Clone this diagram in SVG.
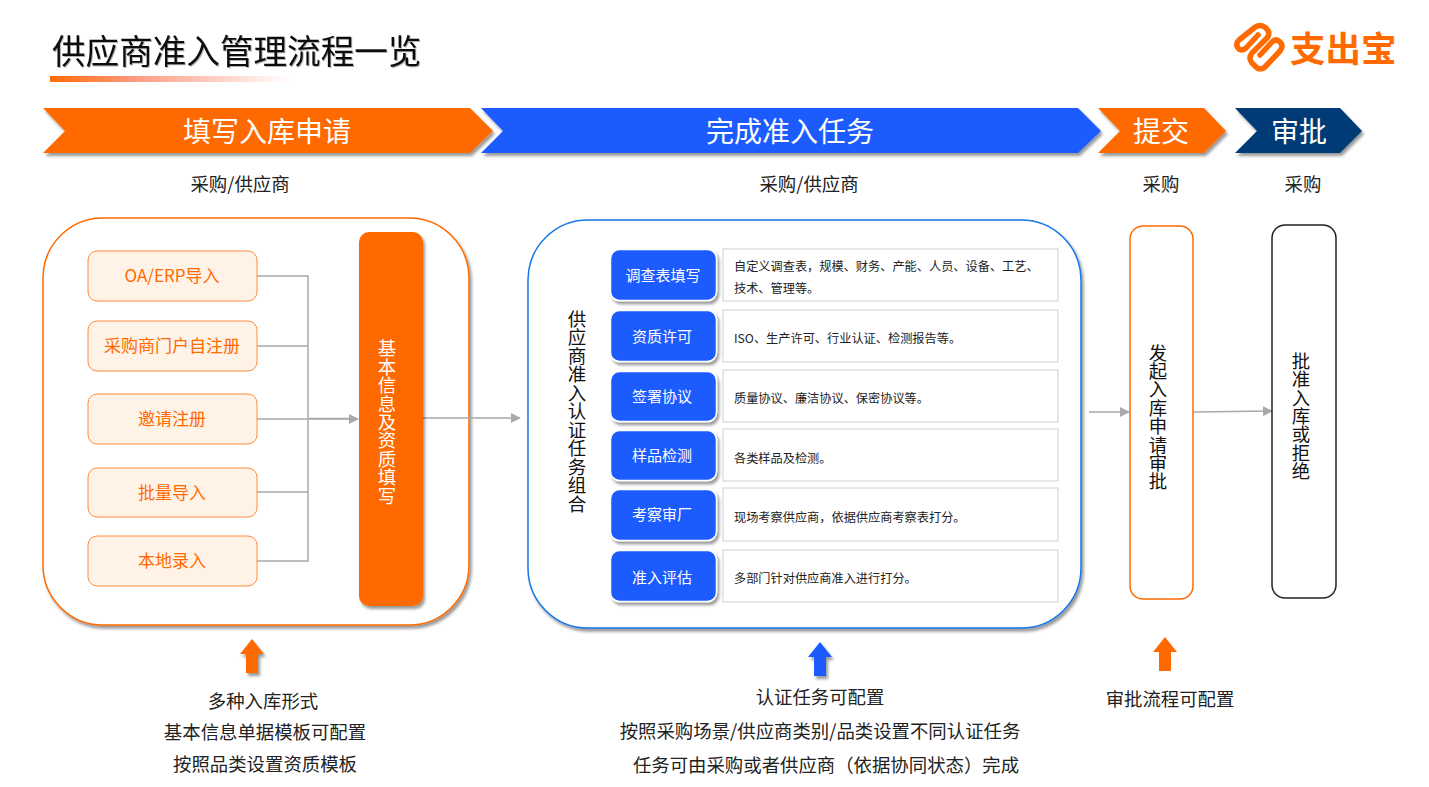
<svg xmlns="http://www.w3.org/2000/svg" width="1429" height="787" viewBox="0 0 1429 787">
<style>
text{font-family:"Noto Sans CJK SC","Liberation Sans",sans-serif}
.ctr{text-anchor:middle}
.ban{fill:#fff;font-size:28px}
.sub{font-size:18.4px;fill:#222}
.src{fill:#fff3e8;stroke:#ff8a3c;stroke-width:1}
.srct{font-size:17px;fill:#ff6a00;text-anchor:middle}
.tab{fill:#1a5cff;stroke:#fff;stroke-width:1.5;filter:url(#sh)}
.tabt{font-size:15px;fill:#fff;text-anchor:middle}
.desc{fill:#fff;stroke:#cfcfcf;stroke-width:1}
.dt{font-size:12.2px;fill:#222}
.note{font-size:18.4px;fill:#222;text-anchor:middle}
.ln{fill:none;stroke:#a9a9a9;stroke-width:1.5}
.v{writing-mode:vertical-rl;text-anchor:middle}
</style>
<defs>
<filter id="sh" x="-20%" y="-20%" width="140%" height="140%"><feDropShadow dx="2" dy="3" stdDeviation="1.5" flood-color="#000" flood-opacity=".4"/></filter>
<filter id="ts" x="-5%" y="-10%" width="110%" height="125%"><feDropShadow dx="1" dy="1" stdDeviation=".6" flood-color="#000" flood-opacity=".3"/></filter>
<linearGradient id="ug"><stop offset="0" stop-color="#ff6a00"/><stop offset=".35" stop-color="#ff9a80"/><stop offset="1" stop-color="#fff"/></linearGradient>
<marker id="ar" markerUnits="userSpaceOnUse" markerWidth="10" markerHeight="10" refX="9" refY="5" orient="auto"><path d="M0 0L10 5L0 10Z" fill="#a9a9a9"/></marker>
</defs>
<g id="title">
<text x="52" y="64" font-size="33.6" fill="#111" filter="url(#ts)">供应商准入管理流程一览</text>
<rect x="50" y="76" width="240" height="6" fill="url(#ug)"/>
</g>
<g id="logo">
<path d="M1258 35L1246 48Q1241 52 1238 48Q1235 44 1239 40L1254 28Q1260 23 1266 28Q1271 33 1267 38L1252 53Q1248 58 1252 63L1256 67Q1260 71 1265 67L1280 51Q1284 46 1280 42Q1276 38 1272 42L1260 55" fill="none" stroke="#ff6a00" stroke-width="5.5" stroke-linecap="round" stroke-linejoin="round"/>
<text x="1290" y="62" font-size="35.5" font-weight="700" fill="#ff6a00">支出宝</text>
</g>
<g id="banner1"><path d="M43 108H470L493 131L470 153H43L65 131Z" fill="#ff6a00" filter="url(#sh)"/><text class="ban ctr" x="267" y="142">填写入库申请</text><text class="sub ctr" x="240" y="191">采购/供应商</text></g>
<g id="banner2"><path d="M481 108H1078L1101 131L1078 153H481L503 131Z" fill="#1a5cff" filter="url(#sh)"/><text class="ban ctr" x="790" y="142">完成准入任务</text><text class="sub ctr" x="809" y="191">采购/供应商</text></g>
<g id="banner3"><path d="M1098 108H1204L1226 131L1204 153H1098L1120 131Z" fill="#ff6a00" filter="url(#sh)"/><text class="ban ctr" x="1161" y="142">提交</text><text class="sub ctr" x="1161" y="191">采购</text></g>
<g id="banner4"><path d="M1235 108H1340L1362 131L1340 153H1235L1257 131Z" fill="#003a78" filter="url(#sh)"/><text class="ban ctr" x="1299" y="142">审批</text><text class="sub ctr" x="1303" y="191">采购</text></g>
<g id="panel1"><rect x="43" y="218" width="426" height="407" rx="60" fill="#fff" stroke="#ff6a00" stroke-width="1.5" filter="url(#sh)"/></g>
<g id="panel2"><rect x="528" y="220" width="553" height="408" rx="60" fill="#fff" stroke="#1677e6" stroke-width="1.5" filter="url(#sh)"/><text class="v" x="577" y="411" font-size="18.5" fill="#111">供应商准入认证任务组合</text></g>
<g id="connectors">
<path class="ln" d="M257 276H308V561H257M257 346H308M257 492H308"/>
<path class="ln" d="M257 419H358" marker-end="url(#ar)"/>
<path class="ln" d="M308 418.500H350" stroke-width="2.500"/>
<path class="ln" d="M423 418H520" marker-end="url(#ar)"/>
<path class="ln" d="M1089 412H1129" marker-end="url(#ar)"/>
<path class="ln" d="M1194 412L1272 411" marker-end="url(#ar)"/>
</g>
<g id="s1"><rect class="src" x="88" y="251" width="169" height="50" rx="9"/><text class="srct" x="172" y="282">OA/ERP导入</text></g>
<g id="s2"><rect class="src" x="88" y="321" width="169" height="50" rx="9"/><text class="srct" x="172" y="352">采购商门户自注册</text></g>
<g id="s3"><rect class="src" x="88" y="394" width="169" height="50" rx="9"/><text class="srct" x="172" y="425">邀请注册</text></g>
<g id="s4"><rect class="src" x="88" y="468" width="169" height="49" rx="9"/><text class="srct" x="172" y="499">批量导入</text></g>
<g id="s5"><rect class="src" x="88" y="536" width="169" height="50" rx="9"/><text class="srct" x="172" y="567">本地录入</text></g>
<g id="basic"><rect x="359" y="232" width="64" height="374" rx="10" fill="#ff6a00" filter="url(#sh)"/><text class="v" x="387" y="422" font-size="18.4" fill="#fff">基本信息及资质填写</text></g>
<g id="t1"><rect class="desc" x="723" y="249" width="335" height="52"/><rect class="tab" x="610.500" y="249.500" width="106" height="51" rx="9"/><text class="tabt" x="663" y="281">调查表填写</text><text class="dt" x="734" y="271">自定义调查表，规模、财务、产能、人员、设备、工艺、</text><text class="dt" x="734" y="293">技术、管理等。</text></g>
<g id="t2"><rect class="desc" x="723" y="310" width="335" height="52"/><rect class="tab" x="610.500" y="310.500" width="106" height="51" rx="9"/><text class="tabt" x="662" y="342">资质许可</text><text class="dt" x="734" y="343">ISO、生产许可、行业认证、检测报告等。</text></g>
<g id="t3"><rect class="desc" x="723" y="370" width="335" height="52"/><rect class="tab" x="610.500" y="371.500" width="106" height="50" rx="9"/><text class="tabt" x="662" y="402">签署协议</text><text class="dt" x="734" y="403">质量协议、廉洁协议、保密协议等。</text></g>
<g id="t4"><rect class="desc" x="723" y="429" width="335" height="52"/><rect class="tab" x="610.500" y="430.500" width="106" height="50" rx="9"/><text class="tabt" x="662" y="461">样品检测</text><text class="dt" x="734" y="463">各类样品及检测。</text></g>
<g id="t5"><rect class="desc" x="723" y="488" width="335" height="53"/><rect class="tab" x="610.500" y="489.500" width="106" height="51" rx="9"/><text class="tabt" x="662" y="520">考察审厂</text><text class="dt" x="734" y="522">现场考察供应商，依据供应商考察表打分。</text></g>
<g id="t6"><rect class="desc" x="723" y="550" width="335" height="52"/><rect class="tab" x="610.500" y="550.500" width="106" height="51" rx="9"/><text class="tabt" x="662" y="583">准入评估</text><text class="dt" x="734" y="583">多部门针对供应商准入进行打分。</text></g>
<g id="submit"><rect x="1130" y="226" width="63" height="373" rx="13" fill="#fff" stroke="#ff6a00" stroke-width="1.5"/><text class="v" x="1158" y="417" font-size="18.400" fill="#111">发起入库申请审批</text></g>
<g id="approve"><rect x="1272" y="225" width="64" height="373" rx="13" fill="#fff" stroke="#222" stroke-width="1.5"/><text class="v" x="1301" y="416" font-size="18.400" fill="#111">批准入库或拒绝</text></g>
<g id="up1"><path d="M252 639L264 654H258V673H246V654H240Z" fill="#ff6a00" filter="url(#sh)"/></g>
<g id="up2"><path d="M820 642L832 657H826V676H814V657H808Z" fill="#1a5cff" filter="url(#sh)"/></g>
<g id="up3"><path d="M1165 637L1177 652H1171V671H1159V652H1153Z" fill="#ff6a00"/></g>
<g id="notes">
<text class="note" x="263" y="708">多种入库形式</text>
<text class="note" x="265" y="739">基本信息单据模板可配置</text>
<text class="note" x="265" y="771">按照品类设置资质模板</text>
<text class="note" x="820" y="704">认证任务可配置</text>
<text class="note" x="820" y="738">按照采购场景/供应商类别/品类设置不同认证任务</text>
<text class="note" x="826" y="772">任务可由采购或者供应商（依据协同状态）完成</text>
<text class="note" x="1170" y="706">审批流程可配置</text>
</g>
</svg>
